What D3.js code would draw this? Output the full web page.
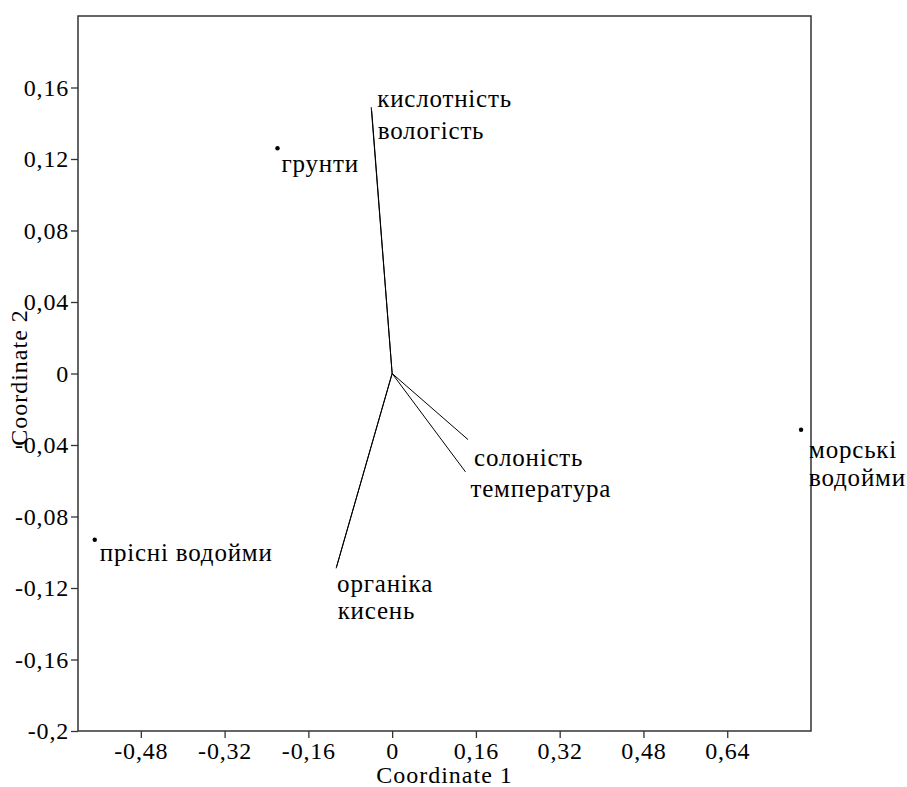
<!DOCTYPE html>
<html lang="uk">
<head>
  <meta charset="utf8">
  <script src="https://cdn.jsdelivr.net/npm/d3@7"></script>
  <title>PCA</title>
  <style>
    body { margin: 0; background: #fff; }
  </style>
</head>
<body>
<div id="chart"></div>
<script>
  // дані
  var siteNames = ["грунти", "прісні водойми", "морські водойми"];
  var siteX = [-0.219, -0.568, 0.781];
  var siteY = [0.126, -0.093, -0.0315];

  var varNames = ["кислотність", "вологість", "солоність", "температура", "органіка", "кисень"];
  var varX = [-0.040, -0.039, 0.145, 0.140, -0.107, -0.106];
  var varY = [0.149, 0.147, -0.037, -0.055, -0.109, -0.108];

  var xTicks = [-0.48, -0.32, -0.16, 0, 0.16, 0.32, 0.48, 0.64];
  var yTicks = [-0.2, -0.16, -0.12, -0.08, -0.04, 0, 0.04, 0.08, 0.12, 0.16];

  // розкладка підписів (зсув від точки, пікселі)
  var siteLabelOff = [[4, 24], [5, 21], [8, 28]];
  var varLabelOff = [[6, 0], [6, 28], [6, 26], [5, 25], [1, 24], [1, 52]];

  var FONT = "'Liberation Serif', 'Times New Roman', Times, serif";
  var width = 907, height = 787;
  var margin = { left: 78, top: 16, right: 96, bottom: 56 };

  var svg = d3.select("#chart").append("svg")
    .attr("width", width).attr("height", height)
    .style("font-family", FONT);

  var x = d3.scaleLinear().domain([-0.6, 0.8]).range([margin.left, width - margin.right]);
  var y = d3.scaleLinear().domain([-0.2, 0.2]).range([height - margin.bottom, margin.top]);

  var fmt = function (d) { return String(+d.toFixed(2)).replace(".", ","); };

  // осі
  svg.append("g").attr("class", "ax").attr("transform", "translate(0," + y(-0.2) + ")")
    .call(d3.axisBottom(x).tickValues(xTicks).tickFormat(fmt).tickSize(7).tickSizeOuter(0).tickPadding(4));
  svg.append("g").attr("class", "ax").attr("transform", "translate(" + x(-0.6) + ",0)")
    .call(d3.axisLeft(y).tickValues(yTicks).tickFormat(fmt).tickSize(7).tickSizeOuter(0).tickPadding(2));
  svg.selectAll("g").attr("font-family", null).attr("font-size", null);
  svg.selectAll(".domain").remove();
  svg.selectAll(".tick line").attr("stroke", "#333").attr("stroke-width", 1.3);

  // рамка
  svg.append("rect")
    .attr("x", x(-0.6)).attr("y", y(0.2))
    .attr("width", x(0.8) - x(-0.6)).attr("height", y(-0.2) - y(0.2))
    .attr("fill", "none").attr("stroke", "#333").attr("stroke-width", 1.5);

  // назви осей
  var t1 = svg.append("text")
    .attr("x", (x(-0.6) + x(0.8)) / 2).attr("y", 783)
    .attr("text-anchor", "middle")
    .text("Coordinate 1");
  var t2 = svg.append("text")
    .attr("transform", "translate(27," + (y(0) + 4) + ") rotate(-90)")
    .attr("text-anchor", "middle")
    .text("Coordinate 2");

  // вектори змінних
  var vg = svg.append("g");
  vg.selectAll("line").data(varNames).enter().append("line")
    .attr("x1", x(0)).attr("y1", y(0))
    .attr("x2", function (d, i) { return x(varX[i]); })
    .attr("y2", function (d, i) { return y(varY[i]); })
    .attr("stroke", "#000").attr("stroke-width", 1);
  vg.selectAll("text").data(varNames).enter().append("text")
    .attr("x", function (d, i) { return x(varX[i]) + varLabelOff[i][0]; })
    .attr("y", function (d, i) { return y(varY[i]) + varLabelOff[i][1]; })
    .text(function (d) { return d; });

  // точки
  var pg = svg.append("g");
  pg.selectAll("circle").data(siteNames).enter().append("circle")
    .attr("cx", function (d, i) { return x(siteX[i]); })
    .attr("cy", function (d, i) { return y(siteY[i]); })
    .attr("r", 2.2).attr("fill", "#000");
  pg.selectAll("text").data(siteNames).enter().append("text")
    .attr("x", function (d, i) { return x(siteX[i]) + siteLabelOff[i][0]; })
    .attr("y", function (d, i) { return y(siteY[i]) + siteLabelOff[i][1]; })
    .each(function (d) {
      var parts = d.split(" ");
      var t = d3.select(this);
      if (d === "морські водойми") {
        t.append("tspan").text(parts[0]);
        t.append("tspan").attr("x", t.attr("x")).attr("dy", 28).text(parts[1]);
      } else {
        t.text(d);
      }
    });

  svg.selectAll("text").style("font-family", FONT).attr("fill", "#000");
  svg.selectAll(".ax text").style("font-size", "24px").style("letter-spacing", "0.8px");
  vg.selectAll("text").style("font-size", "25px").style("letter-spacing", "0.8px");
  pg.selectAll("text").style("font-size", "25px").style("letter-spacing", "0.8px");
  t1.style("font-size", "24px").style("letter-spacing", "1px");
  t2.style("font-size", "24px").style("letter-spacing", "1px");
</script>
</body>
</html>
